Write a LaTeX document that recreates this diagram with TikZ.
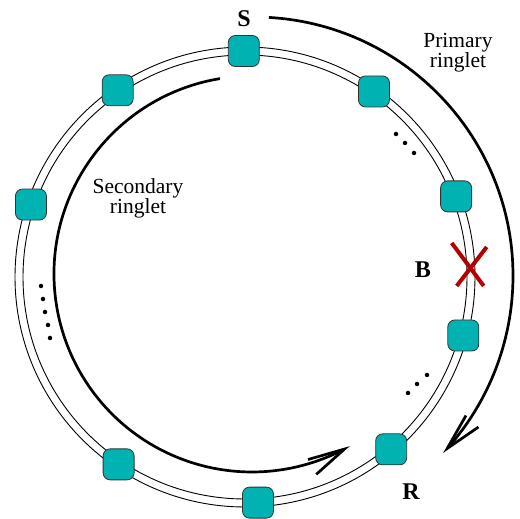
\documentclass[tikz,border=0pt]{standalone}
\usepackage{fontspec}
\setmainfont{Liberation Serif}
\usetikzlibrary{arrows.meta,calc,bending}
\definecolor{nodeteal}{RGB}{0,178,178}
\definecolor{breakred}{RGB}{180,0,0}
\begin{document}
\begin{tikzpicture}[x=1pt,y=1pt,
  station/.style={draw=black!80, line width=0.8pt, fill=nodeteal,
    rounded corners=7pt, minimum width=31pt, minimum height=31pt, inner sep=0pt},
  ringlet/.style={line width=2.7pt,
    -{Straight Barb[length=37pt,width=17pt,line width=2.7pt,flex]}},
  ringtext/.style={font=\fontsize{21.5}{20}\selectfont, align=center},
  endlabel/.style={font=\fontsize{24}{24}\selectfont\bfseries},
  ringdot/.style={circle, fill=black, inner sep=0pt, minimum size=4.5pt},
  cross/.style={breakred, line width=4pt}
]
\useasboundingbox (0,0) rectangle (520,519);
\coordinate (C) at (245,242);  % centre of the double ring
\coordinate (P) at (254,243);  % centre of the primary ringlet arc
\coordinate (Q) at (252,245);  % centre of the secondary ringlet arc

% double ring
\draw[line width=0.9pt] (C) circle[radius=230pt];
\draw[line width=0.9pt] (C) circle[radius=222pt];

% stations on the ring
\foreach \ang/\nm in {90.3/st0, 55.2/st1, 20.9/st2, -15.0/st3, -49.7/st4,
                      -86.7/st5, 236/st6, 161.3/st7, 124.3/st8}
  \node[station] (\nm) at ($(C)+(\ang:226pt)$) {};

% link break
\coordinate (X) at ($(C)+(2.8:226pt)$);
\draw[cross] ($(X)+(-19,23)$) -- ($(X)+(13,-20)$);
\draw[cross] ($(X)+(16,19)$) -- ($(X)+(-14,-20)$);

% ringlets
\draw[ringlet] ($(P)+(86.7:259pt)$) coordinate (pstart)
  arc[start angle=86.7, end angle=-43.1, radius=259pt] coordinate (pend);
\draw[ringlet] ($(Q)+(99.3:198pt)$) coordinate (sstart)
  arc[start angle=99.3, end angle=299.6, radius=198pt] coordinate (send);

% dots for omitted stations
\foreach \p [count=\i] in {(396,385),(405,376),(414,366),
                  (41,233),(43,220),(45,207),(48,194),(50,181),
                  (408,126),(417,135),(427,144)}
  \node[ringdot] (d\i) at \p {};

% labels
\node[endlabel] (S) at (244,500) {S};
\node[endlabel] (B) at (423,249) {B};
\node[endlabel] (R) at (411,27) {R};
\node[ringtext] (prim) at (458,466) {Primary\\ringlet};
\node[ringtext] (sec) at (138,321) {Secondary\\ringlet};
\end{tikzpicture}
\end{document}
